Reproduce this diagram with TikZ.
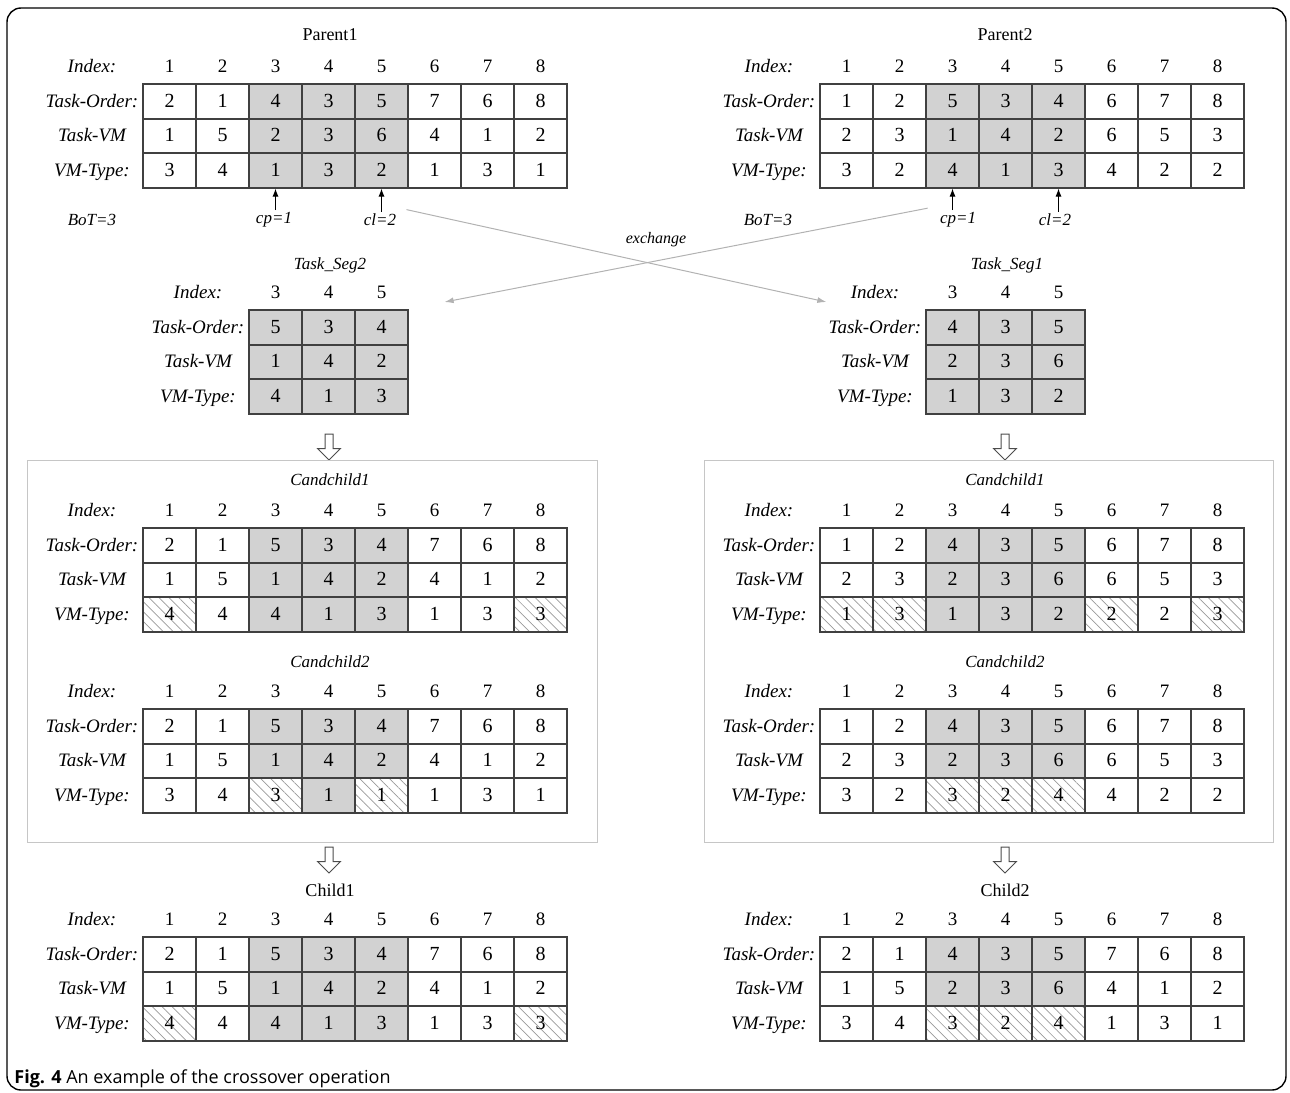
\documentclass[tikz,border=0pt]{standalone}
\usepackage{fontspec}
\setmainfont{Liberation Serif}
\newfontfamily\capfont{Open Sans}
\usetikzlibrary{arrows.meta,shapes.arrows,patterns.meta}

% one chromosome: name, left x, index y, index list, task order, task-vm, vm-type
\newcommand\chrom[7]{%
  \node[lab] (#1-il) at (#2-51,#3) {Index:};
  \node[lab] (#1-ol) at (#2-51,#3+34.5) {Task-Order:};
  \node[lab] (#1-vl) at (#2-51,#3+69) {Task-VM};
  \node[lab] (#1-tl) at (#2-51,#3+103.5) {VM-Type:};
  \foreach \n [count=\i] in {#4}
    \node[idx] (#1-i\i) at (#2+53*\i-26.5,#3) {\n};
  \foreach \v/\k [count=\i] in {#5}
    \node[cell,\k] (#1-o\i) at (#2+53*\i-26.5,#3+34.5) {\v};
  \foreach \v/\k [count=\i] in {#6}
    \node[cell,\k] (#1-v\i) at (#2+53*\i-26.5,#3+69) {\v};
  \foreach \v/\k [count=\i] in {#7}
    \node[cell,\k] (#1-t\i) at (#2+53*\i-26.5,#3+103.5) {\v};
}

\begin{document}
\begin{tikzpicture}[x=0.5pt, y=-0.5pt,
    cell/.style={draw=black!75, line width=0.8pt, minimum width=26.5pt, minimum height=17.25pt,
                 inner sep=0pt, text height=7pt, text depth=1.5pt, font=\fontsize{10}{12}\selectfont},
    pl/.style={fill=white},
    sg/.style={fill=gray!35},
    mt/.style={pattern={Lines[angle=-45,distance=3.5pt,line width=0.35pt]}, pattern color=gray!80},
    idx/.style={inner sep=0pt, text height=7pt, text depth=1.5pt, font=\fontsize{9.5}{11}\selectfont},
    lab/.style={inner sep=0pt, text height=7pt, text depth=1.5pt, font=\fontsize{9.5}{11}\selectfont\itshape},
    note/.style={inner sep=1pt, font=\fontsize{8.5}{10}\selectfont\itshape},
    ttl/.style={inner sep=1pt, font=\fontsize{9}{11}\selectfont},
    tick/.style={-{Latex[length=4pt,width=3pt]}, line width=0.5pt},
    xch/.style={-{Latex[length=4.5pt,width=3pt]}, gray!60, line width=0.5pt},
    hollow/.style={single arrow, draw=black!70, line width=0.5pt, fill=white, inner sep=1.75pt,
                   minimum height=13pt, single arrow head extend=3.75pt,
                   single arrow tip angle=90, shape border rotate=270},
    cbox/.style={draw=gray!45, line width=0.5pt}
]
    \useasboundingbox (0,0) rectangle (1290,1092);
    \draw[line width=0.7pt, rounded corners=7pt] (7,8) rectangle (1286,1090);

    % parents
    \node[ttl] (p1-ttl) at (330,35) {Parent1};
    \chrom{p1}{143}{67}{1,...,8}
      {2/pl,1/pl,4/sg,3/sg,5/sg,7/pl,6/pl,8/pl}
      {1/pl,5/pl,2/sg,3/sg,6/sg,4/pl,1/pl,2/pl}
      {3/pl,4/pl,1/sg,3/sg,2/sg,1/pl,3/pl,1/pl}
    \node[ttl] (p2-ttl) at (1005,35) {Parent2};
    \chrom{p2}{820}{67}{1,...,8}
      {1/pl,2/pl,5/sg,3/sg,4/sg,6/pl,7/pl,8/pl}
      {2/pl,3/pl,1/sg,4/sg,2/sg,6/pl,5/pl,3/pl}
      {3/pl,2/pl,4/sg,1/sg,3/sg,4/pl,2/pl,2/pl}

    \node[note] (p1-bot) at (92,220) {BoT=3};
    \node[note] (p1-cp) at (274,220) {cp=1};
    \node[note] (p1-cl) at (380,220) {cl=2};
    \node[note] (p2-bot) at (768,220) {BoT=3};
    \node[note] (p2-cp) at (958,220) {cp=1};
    \node[note] (p2-cl) at (1055,220) {cl=2};
    \draw[tick] (p1-t3.south |- p1-cp.north) -- (p1-t3.south);
    \draw[tick] (p1-t5.south |- p1-cl.north) -- (p1-t5.south);
    \draw[tick] (p2-t3.south |- p2-cp.north) -- (p2-t3.south);
    \draw[tick] (p2-t5.south |- p2-cl.north) -- (p2-t5.south);

    % segments
    \node[ttl, font=\fontsize{8.5}{10}\selectfont\itshape] (s2-ttl) at (330,265) {Task\_Seg2};
    \chrom{s2}{249}{293}{3,4,5}
      {5/sg,3/sg,4/sg}
      {1/sg,4/sg,2/sg}
      {4/sg,1/sg,3/sg}
    \node[ttl, font=\fontsize{8.5}{10}\selectfont\itshape] (s1-ttl) at (1007,265) {Task\_Seg1};
    \chrom{s1}{926}{293}{3,4,5}
      {4/sg,3/sg,5/sg}
      {2/sg,3/sg,6/sg}
      {1/sg,3/sg,2/sg}

    \node[note, font=\fontsize{8}{10}\selectfont\itshape] (xlab) at (656,240) {exchange};
    \draw[xch] ([xshift=4pt,yshift=1pt]p1-cl.north east) -- ([xshift=-12pt,yshift=-4.5pt]s1-il.west);
    \draw[xch] ([xshift=-5pt,yshift=1pt]p2-cp.north west) -- ([xshift=29pt,yshift=-4.5pt]s2-i3.east);

    \node[hollow] (dn1) at (329,445) {};
    \node[hollow] (dn2) at (1005,445) {};

    % candidate children
    \draw[cbox] (27,460) rectangle (597,842);
    \draw[cbox] (704,460) rectangle (1273,842);

    \node[ttl, font=\fontsize{8.5}{10}\selectfont\itshape] (a1-ttl) at (330,480) {Candchild1};
    \chrom{a1}{143}{511}{1,...,8}
      {2/pl,1/pl,5/sg,3/sg,4/sg,7/pl,6/pl,8/pl}
      {1/pl,5/pl,1/sg,4/sg,2/sg,4/pl,1/pl,2/pl}
      {4/mt,4/pl,4/sg,1/sg,3/sg,1/pl,3/pl,3/mt}
    \node[ttl, font=\fontsize{8.5}{10}\selectfont\itshape] (a2-ttl) at (330,662) {Candchild2};
    \chrom{a2}{143}{692}{1,...,8}
      {2/pl,1/pl,5/sg,3/sg,4/sg,7/pl,6/pl,8/pl}
      {1/pl,5/pl,1/sg,4/sg,2/sg,4/pl,1/pl,2/pl}
      {3/pl,4/pl,3/mt,1/sg,1/mt,1/pl,3/pl,1/pl}

    \node[ttl, font=\fontsize{8.5}{10}\selectfont\itshape] (b1-ttl) at (1005,480) {Candchild1};
    \chrom{b1}{820}{511}{1,...,8}
      {1/pl,2/pl,4/sg,3/sg,5/sg,6/pl,7/pl,8/pl}
      {2/pl,3/pl,2/sg,3/sg,6/sg,6/pl,5/pl,3/pl}
      {1/mt,3/mt,1/sg,3/sg,2/sg,2/mt,2/pl,3/mt}
    \node[ttl, font=\fontsize{8.5}{10}\selectfont\itshape] (b2-ttl) at (1005,662) {Candchild2};
    \chrom{b2}{820}{692}{1,...,8}
      {1/pl,2/pl,4/sg,3/sg,5/sg,6/pl,7/pl,8/pl}
      {2/pl,3/pl,2/sg,3/sg,6/sg,6/pl,5/pl,3/pl}
      {3/pl,2/pl,3/mt,2/mt,4/mt,4/pl,2/pl,2/pl}

    \node[hollow] (dn3) at (329,858) {};
    \node[hollow] (dn4) at (1005,858) {};

    % children
    \node[ttl] (c1-ttl) at (330,890) {Child1};
    \chrom{c1}{143}{920}{1,...,8}
      {2/pl,1/pl,5/sg,3/sg,4/sg,7/pl,6/pl,8/pl}
      {1/pl,5/pl,1/sg,4/sg,2/sg,4/pl,1/pl,2/pl}
      {4/mt,4/pl,4/sg,1/sg,3/sg,1/pl,3/pl,3/mt}
    \node[ttl] (c2-ttl) at (1005,890) {Child2};
    \chrom{c2}{820}{920}{1,...,8}
      {2/pl,1/pl,4/sg,3/sg,5/sg,7/pl,6/pl,8/pl}
      {1/pl,5/pl,2/sg,3/sg,6/sg,4/pl,1/pl,2/pl}
      {3/pl,4/pl,3/mt,2/mt,4/mt,1/pl,3/pl,1/pl}

    \node[anchor=west, inner sep=0pt, font=\capfont\fontsize{9}{11}\selectfont] (cap) at (14,1079)
      {\textbf{Fig. 4} An example of the crossover operation};
\end{tikzpicture}
\end{document}
